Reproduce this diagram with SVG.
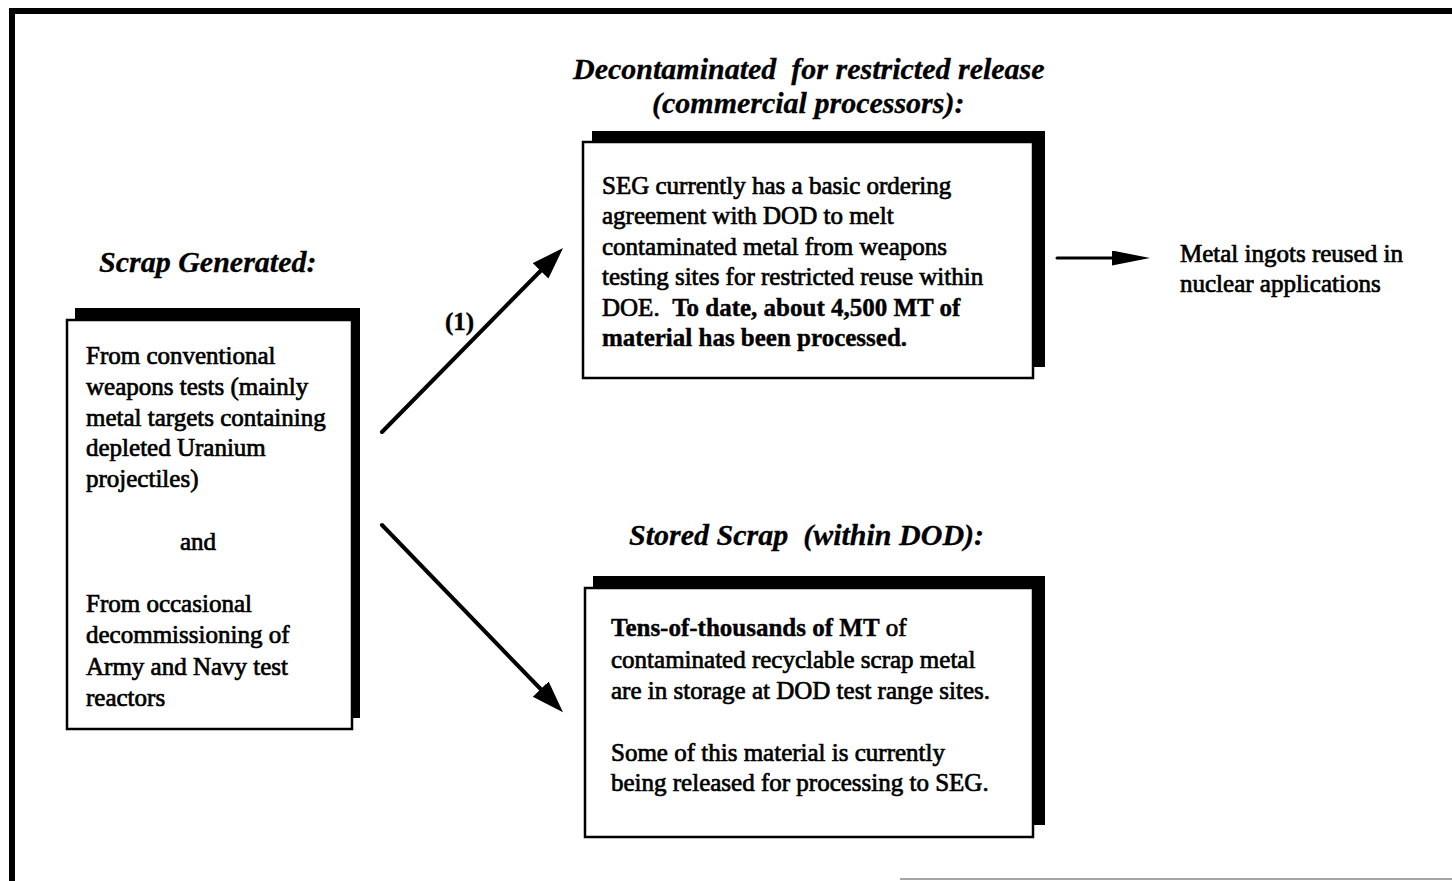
<svg xmlns="http://www.w3.org/2000/svg" width="1452" height="881" viewBox="0 0 1452 881">
<style>
.t{font-family:"Liberation Serif","Times New Roman",serif;font-size:25px;fill:#000;stroke:#000;stroke-width:0.7}
.b{font-weight:bold;stroke-width:0.4}
.h{font-family:"Liberation Serif","Times New Roman",serif;font-size:30px;font-weight:bold;font-style:italic;fill:#000;stroke:#000;stroke-width:0.3;white-space:pre}
.shadow{fill:#000}
.box{fill:#fff;stroke:#000;stroke-width:2.5}
.conn{stroke:#000;fill:none;stroke-linecap:round}
</style>
<defs>
<marker id="ah" markerUnits="userSpaceOnUse" markerWidth="34" markerHeight="24" refX="4" refY="11" orient="auto">
<path d="M0,0 L32,11 L0,22 z" fill="#000"/>
</marker>
<marker id="ahs" markerUnits="userSpaceOnUse" markerWidth="40" markerHeight="16" refX="4" refY="7.5" orient="auto">
<path d="M0,0 L38,7.5 L0,15 z" fill="#000"/>
</marker>
</defs>
<rect width="1452" height="881" fill="#fff"/>
<g id="frame">
<path d="M12,881 V11 H1452" fill="none" stroke="#000" stroke-width="6"/>
<line x1="900" y1="879" x2="1452" y2="879" stroke="#000" stroke-width="1.2" opacity="0.7"/>
</g>
<g id="titles">
<text class="h" x="99" y="272">Scrap Generated:</text>
<text class="h" x="573" y="79">Decontaminated  for restricted release</text>
<text class="h" x="652" y="113">(commercial processors):</text>
<text class="h" x="629" y="545">Stored Scrap  (within DOD):</text>
</g>
<g id="scrap">
<rect class="shadow" x="75" y="308" width="285" height="410"/>
<rect class="box" x="67" y="320" width="285" height="409"/>
<text class="t" x="86" y="364">From conventional</text>
<text class="t" x="86" y="395">weapons tests (mainly</text>
<text class="t" x="86" y="426">metal targets containing</text>
<text class="t" x="86" y="456">depleted Uranium</text>
<text class="t" x="86" y="487">projectiles)</text>
<text class="t" x="180" y="550">and</text>
<text class="t" x="86" y="612">From occasional</text>
<text class="t" x="86" y="643">decommissioning of</text>
<text class="t" x="86" y="675">Army and Navy test</text>
<text class="t" x="86" y="706">reactors</text>
</g>
<g id="decontaminated">
<rect class="shadow" x="592" y="131" width="453" height="236"/>
<rect class="box" x="583" y="142" width="450" height="236"/>
<text class="t" x="602" y="194">SEG currently has a basic ordering</text>
<text class="t" x="602" y="224">agreement with DOD to melt</text>
<text class="t" x="602" y="255">contaminated metal from weapons</text>
<text class="t" x="602" y="285">testing sites for restricted reuse within</text>
<text class="t" x="602" y="316" style="white-space:pre">DOE.  <tspan class="b">To date, about 4,500 MT of</tspan></text>
<text class="t b" x="602" y="346">material has been processed.</text>
</g>
<g id="stored">
<rect class="shadow" x="593" y="576" width="452" height="249"/>
<rect class="box" x="585" y="588" width="448" height="249"/>
<text class="t" x="611" y="636"><tspan class="b">Tens-of-thousands of MT</tspan> of</text>
<text class="t" x="611" y="668">contaminated recyclable scrap metal</text>
<text class="t" x="611" y="699">are in storage at DOD test range sites.</text>
<text class="t" x="611" y="761">Some of this material is currently</text>
<text class="t" x="611" y="791">being released for processing to SEG.</text>
</g>
<g id="ingots">
<text class="t" x="1180" y="262">Metal ingots reused in</text>
<text class="t" x="1180" y="292">nuclear applications</text>
</g>
<g id="connectors">
<line class="conn" x1="382" y1="432" x2="543.4" y2="268" stroke-width="4" marker-end="url(#ah)"/>
<line class="conn" x1="382" y1="525" x2="543.5" y2="692" stroke-width="4" marker-end="url(#ah)"/>
<line class="conn" x1="1057" y1="258" x2="1116" y2="258" stroke-width="3" marker-end="url(#ahs)"/>
<text class="t b" x="445" y="330">(1)</text>
</g>
</svg>
